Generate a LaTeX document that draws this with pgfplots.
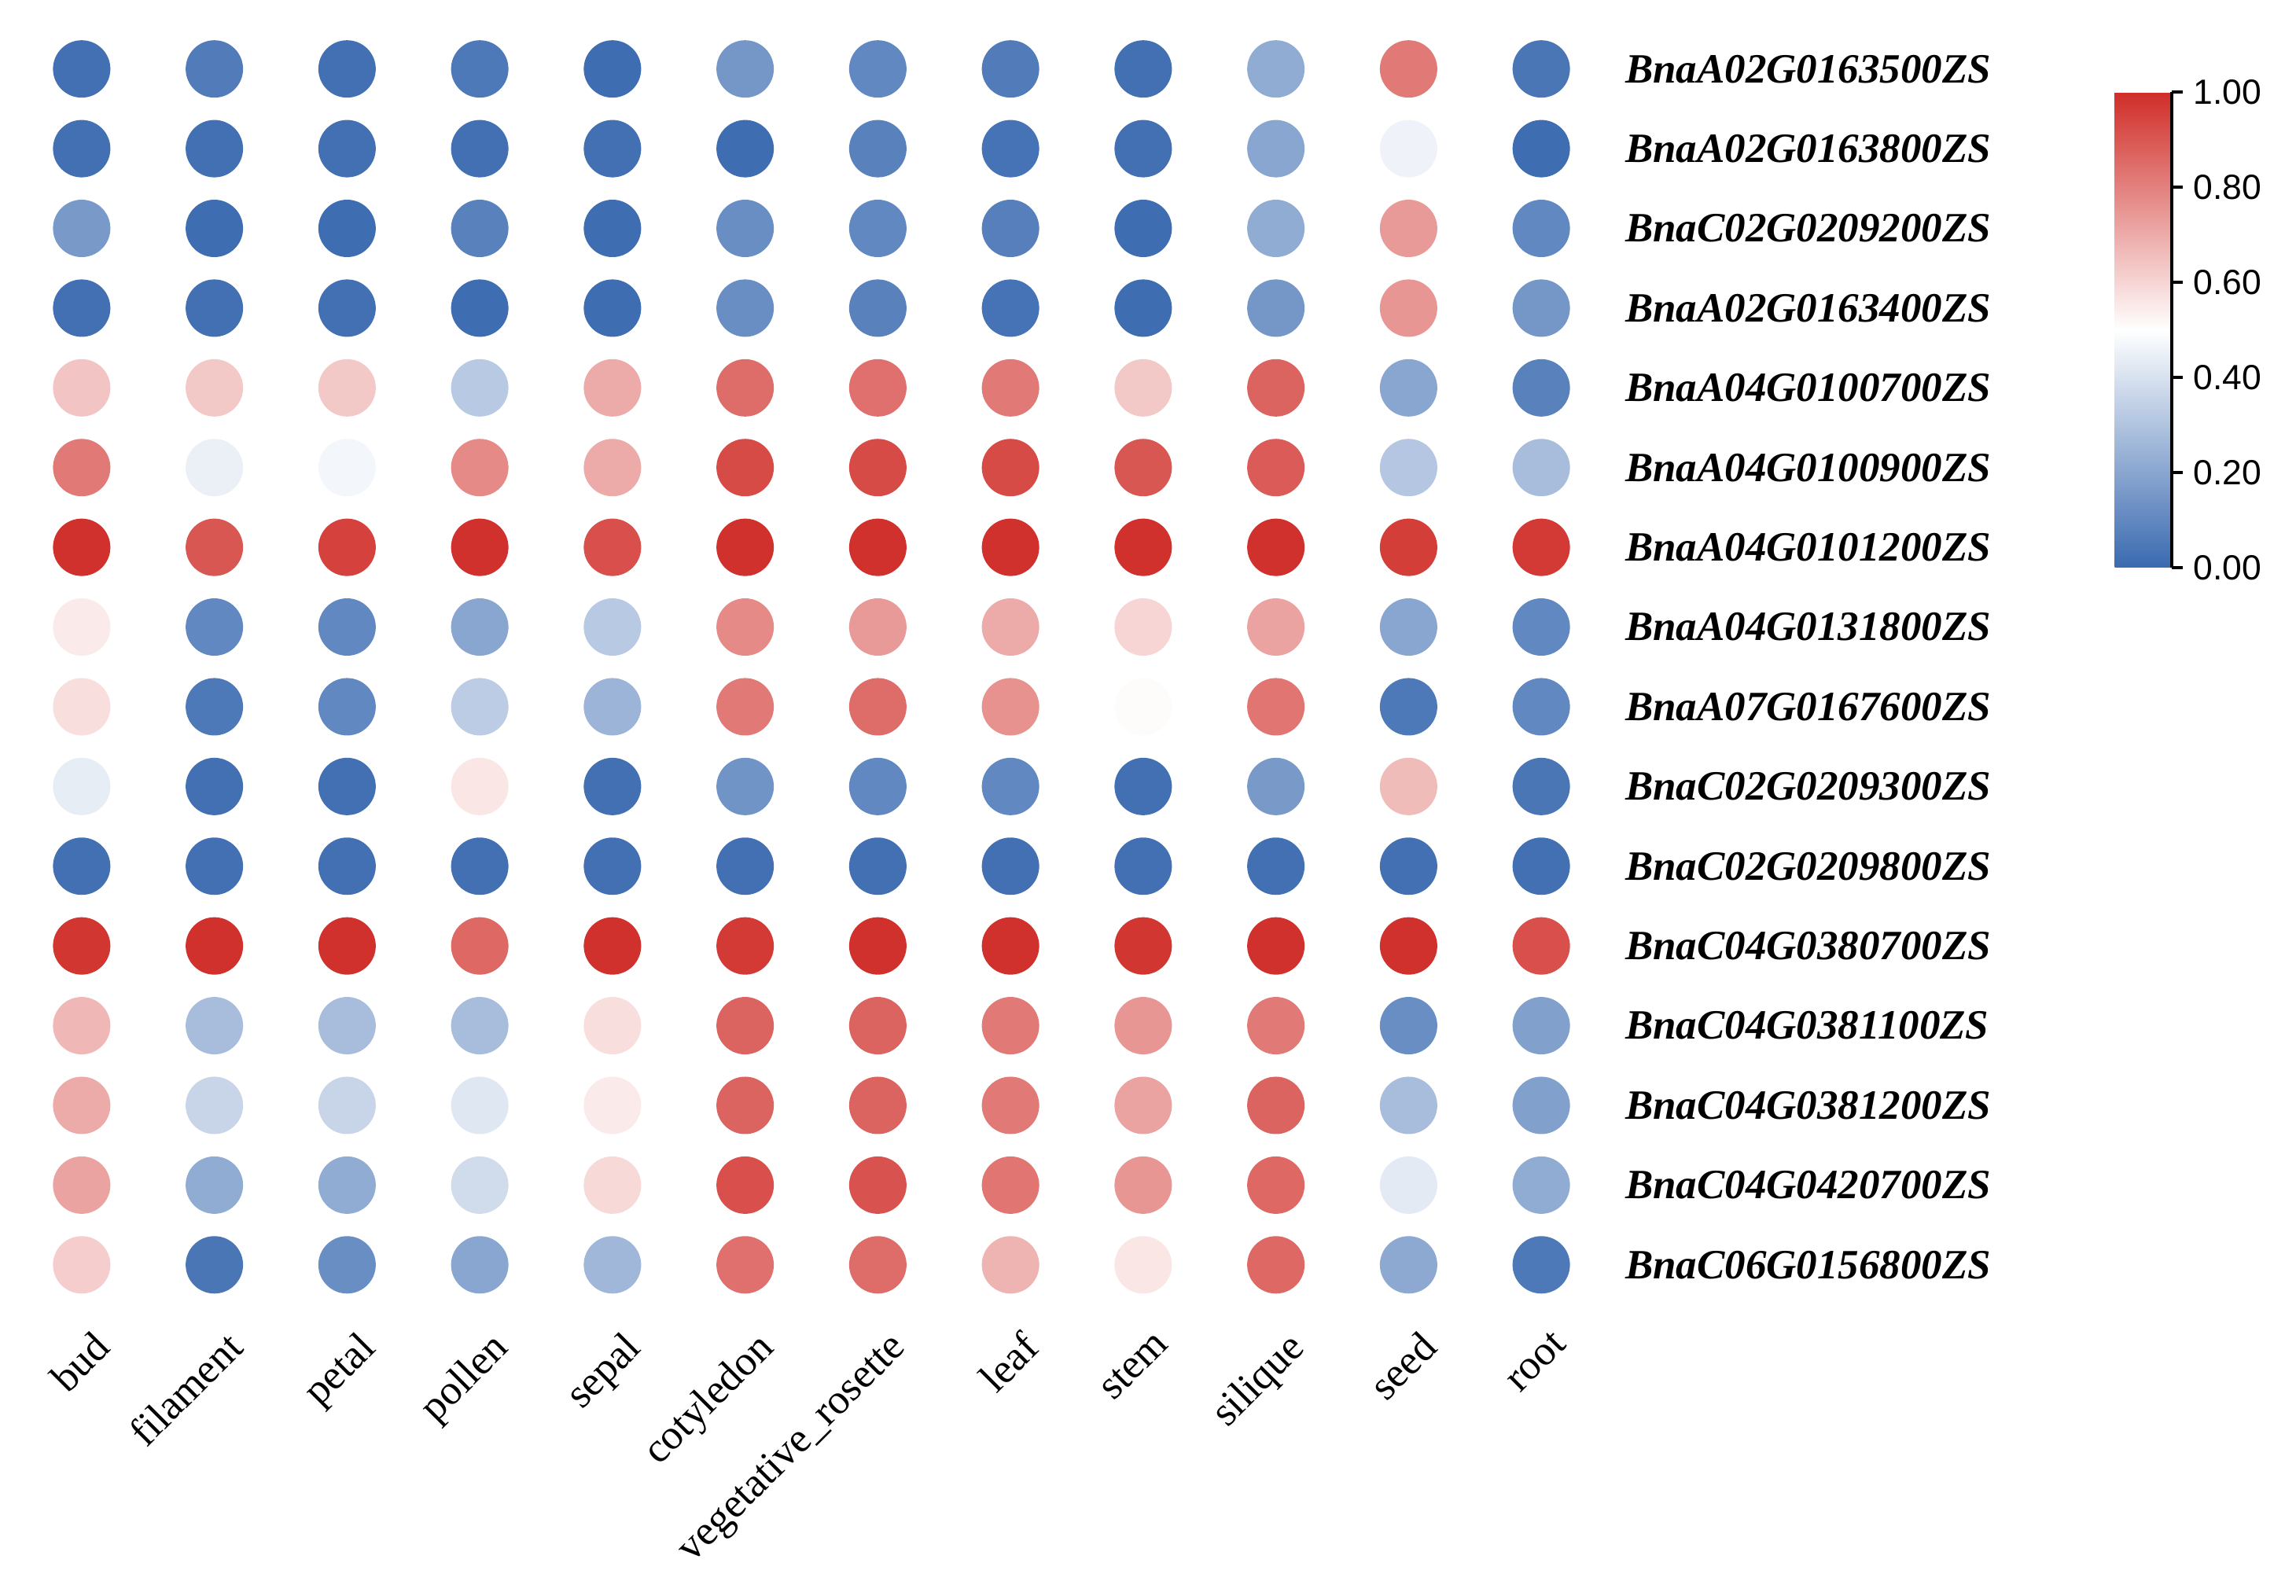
\documentclass[border=0pt]{standalone}
\usepackage{fontspec}
\setmainfont{Liberation Serif}
\setsansfont{Liberation Sans}
\usepackage{pgfplots}
\usepackage{pgfplotstable}
\pgfplotsset{compat=1.18}

% relative expression (0 = lowest, 1 = highest) per gene and tissue
\pgfplotstableread{
row bud fil pet pol sep cot veg leaf stem sil seed root
0  0.02 0.06 0.02 0.05 0.01 0.15 0.10 0.06 0.02 0.22 0.82 0.04
1  0.02 0.02 0.02 0.02 0.02 0.01 0.08 0.03 0.02 0.20 0.46 0.01
2  0.16 0.01 0.01 0.08 0.01 0.12 0.10 0.07 0.01 0.22 0.74 0.10
3  0.02 0.02 0.02 0.01 0.01 0.12 0.08 0.03 0.01 0.15 0.75 0.15
4  0.64 0.63 0.63 0.32 0.70 0.85 0.84 0.82 0.63 0.87 0.20 0.08
5  0.82 0.45 0.47 0.78 0.70 0.93 0.93 0.93 0.90 0.89 0.31 0.28
6  0.99 0.90 0.95 0.99 0.92 0.99 0.99 0.99 0.99 0.99 0.96 0.97
7  0.55 0.10 0.10 0.20 0.32 0.78 0.74 0.70 0.60 0.72 0.20 0.10
8  0.58 0.05 0.10 0.33 0.25 0.82 0.85 0.76 0.51 0.83 0.05 0.10
9  0.44 0.02 0.02 0.56 0.02 0.14 0.10 0.10 0.02 0.16 0.66 0.04
10 0.02 0.02 0.02 0.02 0.02 0.02 0.02 0.02 0.02 0.02 0.02 0.02
11 0.98 0.99 0.99 0.86 0.99 0.97 0.99 0.99 0.98 0.99 0.99 0.92
12 0.67 0.28 0.28 0.28 0.58 0.87 0.87 0.82 0.75 0.82 0.12 0.18
13 0.70 0.36 0.36 0.42 0.55 0.87 0.87 0.82 0.72 0.87 0.28 0.18
14 0.72 0.22 0.22 0.38 0.59 0.92 0.91 0.83 0.75 0.86 0.43 0.22
15 0.62 0.04 0.12 0.20 0.26 0.84 0.85 0.68 0.56 0.86 0.21 0.05
}\expr

\begin{document}
\begin{tikzpicture}
\useasboundingbox (0,0) rectangle (584pt,406pt);
\begin{axis}[
    at={(3.9pt,398.6pt)}, anchor=north west,
    scale only axis,
    width=405pt, height=324.5pt,
    xmin=-0.5, xmax=11.5,
    ymin=-0.5, ymax=15.5,
    y dir=reverse,
    axis line style={draw=none},
    major tick length=0pt,
    xtick={0,...,11},
    xticklabels={bud,filament,petal,pollen,sepal,cotyledon,vegetative\_rosette,leaf,stem,silique,seed,root},
    xticklabel style={rotate=45, anchor=north east, inner sep=0pt, font=\fontsize{10.6}{12.5}\selectfont, xshift=-2.5pt, yshift=-6pt},
    ytick={0,...,15},
    yticklabels={BnaA02G0163500ZS,BnaA02G0163800ZS,BnaC02G0209200ZS,BnaA02G0163400ZS,
        BnaA04G0100700ZS,BnaA04G0100900ZS,BnaA04G0101200ZS,BnaA04G0131800ZS,
        BnaA07G0167600ZS,BnaC02G0209300ZS,BnaC02G0209800ZS,BnaC04G0380700ZS,
        BnaC04G0381100ZS,BnaC04G0381200ZS,BnaC04G0420700ZS,BnaC06G0156800ZS},
    yticklabel pos=right,
    yticklabel style={anchor=west, inner sep=0pt, xshift=4.3pt, font=\fontsize{10.6}{12.5}\selectfont\bfseries\itshape},
    colormap={bwr}{rgb255(0)=(58,106,176); rgb255(1)=(255,255,255); rgb255(2)=(208,45,40)},
    point meta min=0, point meta max=1,
    colorbar,
    colorbar/width=14.4pt,
    colorbar style={
        at={(parent axis.north east)}, anchor=north west,
        xshift=120.5pt, yshift=-16pt,
        scale only axis,
        height=121pt,
        axis x line=none,
        axis y line*=right,
        y axis line style={line width=0.8pt, black},
        ytick={0,0.2,0.4,0.6,0.8,1},
        major tick length=2.8pt,
        tick align=outside,
        tick style={line width=0.8pt, black},
        yticklabel style={font=\sffamily\fontsize{8.9}{10}\selectfont, inner sep=0pt, xshift=2.6pt,
            /pgf/number format/.cd, fixed, fixed zerofill, precision=2, assume math mode=true},
    },
    dot/.style={scatter, only marks, mark=*, mark size=7.1pt, point meta=explicit,
        scatter/use mapped color={draw=mapped color, fill=mapped color}},
]
\addplot[dot] table[x expr=0,  y=row, meta=bud]  {\expr};
\addplot[dot] table[x expr=1,  y=row, meta=fil]  {\expr};
\addplot[dot] table[x expr=2,  y=row, meta=pet]  {\expr};
\addplot[dot] table[x expr=3,  y=row, meta=pol]  {\expr};
\addplot[dot] table[x expr=4,  y=row, meta=sep]  {\expr};
\addplot[dot] table[x expr=5,  y=row, meta=cot]  {\expr};
\addplot[dot] table[x expr=6,  y=row, meta=veg]  {\expr};
\addplot[dot] table[x expr=7,  y=row, meta=leaf] {\expr};
\addplot[dot] table[x expr=8,  y=row, meta=stem] {\expr};
\addplot[dot] table[x expr=9,  y=row, meta=sil]  {\expr};
\addplot[dot] table[x expr=10, y=row, meta=seed] {\expr};
\addplot[dot] table[x expr=11, y=row, meta=root] {\expr};
\end{axis}
\end{tikzpicture}
\end{document}
